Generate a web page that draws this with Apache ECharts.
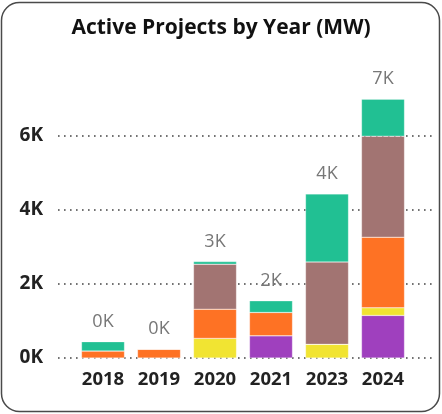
<!DOCTYPE html>
<html><head><meta charset="utf-8">
<script src="https://cdn.jsdelivr.net/npm/echarts@6/dist/echarts.min.js"></script>
<style>html,body{margin:0;padding:0;background:#fff}#c{width:442px;height:414px}</style>
</head><body><div id="c"></div>
<script>
const years = ['2018','2019','2020','2021','2023','2024'];
const purple = [0, 0, 0, 600, 0, 1150];
const yellow = [0, 0, 530, 0, 370, 205];
const orange = [190, 235, 790, 630, 0, 1910];
const brown  = [0, 0, 1215, 0, 2225, 2730];
const green  = [250, 0, 70, 315, 1840, 1000];
const yTicks = [0, 2000, 4000, 6000];

const seriesDefs = [
  {name:'Purple', data:purple, color:'#9F40BE'},
  {name:'Yellow', data:yellow, color:'#F1E432'},
  {name:'Orange', data:orange, color:'#FE7224'},
  {name:'Brown',  data:brown,  color:'#A27472'},
  {name:'Green',  data:green,  color:'#21C093'}
];
const totals = years.map((_, i) => seriesDefs.reduce((s, d) => s + d.data[i], 0));
const font = '"Open Sans", "Noto Sans", sans-serif';

const chart = echarts.init(document.getElementById('c'), null, {renderer:'canvas'});
const series = seriesDefs.map(d => ({
  type:'bar', name:d.name, stack:'s', xAxisIndex:1, yAxisIndex:1,
  data:d.data, barWidth:43,
  itemStyle:{color:d.color, borderColor:'rgba(255,255,255,0.5)', borderWidth:0.5},
  emphasis:{disabled:true}, silent:true
}));
series.push({
  type:'bar', name:'total', stack:'s', xAxisIndex:1, yAxisIndex:1,
  data:years.map(() => 0), barWidth:43, silent:true,
  label:{show:true, position:'top', distance:11, color:'#777', fontSize:18, fontFamily:font,
    formatter:p => Math.round(totals[p.dataIndex]/1000) + 'K'}
});

chart.setOption({
  animation:false,
  title:{text:'Active Projects by Year (MW)', left:'center', top:13,
    textStyle:{fontFamily:font, fontWeight:'bold', fontSize:21, color:'#111'}},
  graphic:[{type:'rect', shape:{x:1.5, y:2.5, width:438, height:409, r:18},
    style:{fill:'none', stroke:'#4a4a4a', lineWidth:1.5}, z:-1}],
  grid:[
    {left:58, right:10, top:136, bottom:56},
    {left:75, right:31, top:62, bottom:56}
  ],
  xAxis:[
    {type:'category', gridIndex:0, data:years, show:false},
    {type:'category', gridIndex:1, data:years, axisLine:{show:false}, axisTick:{show:false},
      axisLabel:{fontFamily:font, fontWeight:'bold', fontSize:18.5, color:'#222', margin:12}}
  ],
  yAxis:[
    {type:'value', gridIndex:0, min:yTicks[0], max:yTicks[yTicks.length-1], interval:2000,
      axisLine:{show:false}, axisTick:{show:false},
      axisLabel:{fontFamily:font, fontWeight:'bold', fontSize:19, color:'#222', margin:15,
        formatter:v => (v/1000) + 'K'},
      splitLine:{show:true, lineStyle:{color:'#444', width:1.6, type:[1.6,4.4]}}},
    {type:'value', gridIndex:1, min:0, max:8000, show:false, splitLine:{show:false}}
  ],
  series:series
});
</script></body></html>
